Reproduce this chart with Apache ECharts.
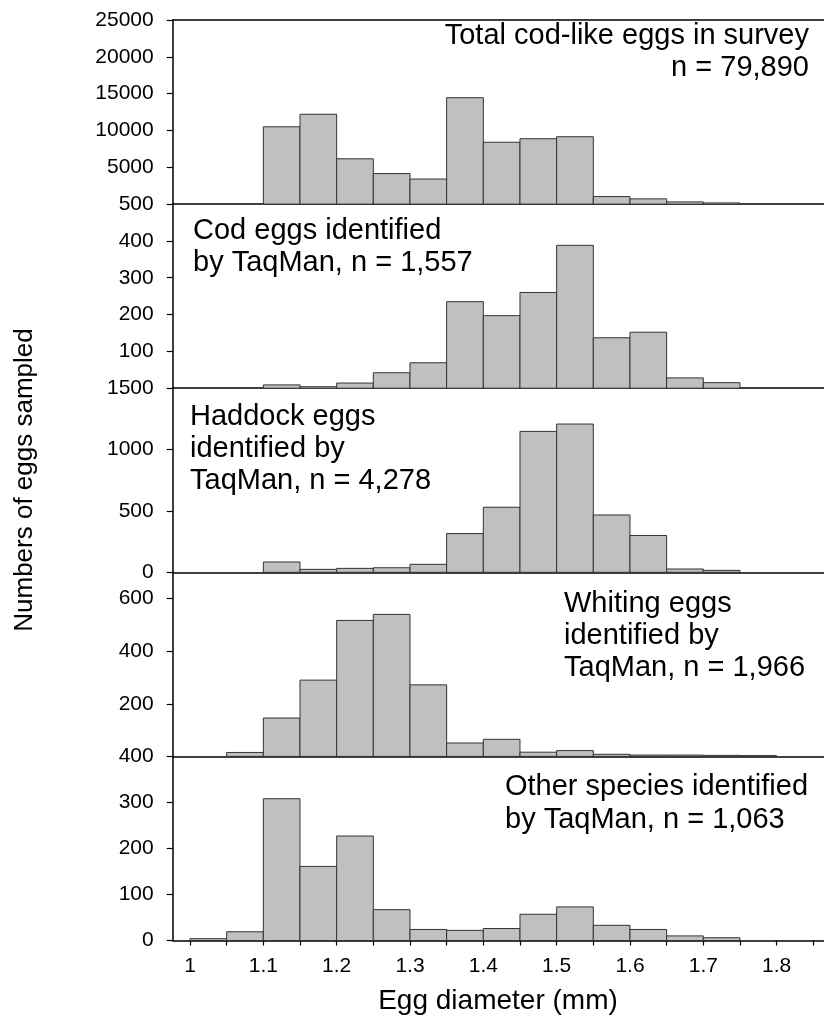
<!DOCTYPE html>
<html>
<head>
<meta charset="utf-8">
<script src="https://cdn.jsdelivr.net/npm/echarts@6/dist/echarts.min.js"></script>
<style>
html,body{margin:0;padding:0;background:#fff;}
#chart{width:824px;height:1017px;}
</style>
</head>
<body>
<div id="chart"></div>
<script>
// Bin starts (mm), width 0.05 mm
const binStarts = [1.00,1.05,1.10,1.15,1.20,1.25,1.30,1.35,1.40,1.45,1.50,1.55,1.60,1.65,1.70,1.75];
const binWidth = 0.05;

const totalEggs   = [0,0,10500,12200,6150,4150,3400,14450,8400,8880,9150,1020,710,300,160,0];
const codEggs     = [0,0,9,4,14,42,69,235,197,260,388,137,152,28,15,0];
const haddockEggs = [0,0,84,24,32,37,65,316,530,1148,1208,467,300,27,16,0];
const whitingEggs = [0,15,146,290,517,540,272,51,65,16,22,8,5,5,4,3];
const otherEggs   = [4,19,308,161,227,67,24,22,26,57,73,33,24,10,6,0];

const xTickLabels = [1,1.1,1.2,1.3,1.4,1.5,1.6,1.7,1.8];
const xTickMarks  = [1,1.05,1.1,1.15,1.2,1.25,1.3,1.35,1.4,1.45,1.5,1.55,1.6,1.65,1.7,1.75,1.8,1.85];

const panelMax      = [25000,500,1500,700,400];
const panelInterval = [5000,100,500,200,100];

const panelText = [
  ["Total cod-like eggs in survey","n = 79,890"],
  ["Cod eggs identified","by TaqMan, n = 1,557"],
  ["Haddock eggs","identified by","TaqMan, n = 4,278"],
  ["Whiting eggs","identified by","TaqMan, n = 1,966"],
  ["Other species identified","by TaqMan, n = 1,063"]
];

const xTitle = "Egg diameter (mm)";
const yTitle = "Numbers of eggs sampled";

const seriesVals = [totalEggs, codEggs, haddockEggs, whitingEggs, otherEggs];

const FONT = '"Liberation Sans", Arial, sans-serif';
const X_MIN = 0.9764, X_MAX = 1.8646;
const TOP0 = 20, PH = 184.1, LEFT = 172.7;

const grids = [], xAxes = [], yAxes = [], series = [];
for (let i = 0; i < 5; i++) {
  grids.push({left: LEFT, right: 0, top: TOP0 + i*PH, height: PH});
  const last = i === 4;
  xAxes.push({
    type: 'value', gridIndex: i, min: X_MIN, max: X_MAX,
    axisLine: {show: true, onZero: false, lineStyle: {color: '#000', width: 1.5}},
    axisTick: last ? {show: true, length: 5, lineStyle: {color: '#000', width: 1.2}, customValues: xTickMarks} : {show: false},
    axisLabel: last ? {show: true, fontSize: 21, fontFamily: FONT, color: '#000', margin: 15,
      customValues: xTickLabels, formatter: v => String(Math.round(v*100)/100)} : {show: false},
    splitLine: {show: false}
  });
  yAxes.push({
    type: 'value', gridIndex: i, min: 0, max: panelMax[i], interval: panelInterval[i],
    axisLine: {show: true, lineStyle: {color: '#000', width: 1.5}},
    axisTick: {show: true, length: 6, lineStyle: {color: '#000', width: 1.2}},
    axisLabel: {fontSize: 21, fontFamily: FONT, color: '#000', margin: 19,
      formatter: v => String(v),
      showMinLabel: (i === 2 || i === 4), showMaxLabel: i !== 3},
    splitLine: {show: false}
  });
  const vals = seriesVals[i];
  const data = binStarts.map((s, k) => [s, s + binWidth, vals[k]]).filter(d => d[2] > 0);
  series.push({
    type: 'custom', xAxisIndex: i, yAxisIndex: i, data: data,
    encode: {x: [0, 1], y: 2},
    renderItem: function (params, api) {
      const p0 = api.coord([api.value(0), api.value(2)]);
      const p1 = api.coord([api.value(1), 0]);
      return {type: 'rect',
        shape: {x: p0[0], y: p0[1], width: p1[0] - p0[0], height: p1[1] - p0[1]},
        style: {fill: '#c0c0c0', stroke: '#333', lineWidth: 1}};
    }
  });
}
// top frame line of first panel
xAxes.push({type: 'value', gridIndex: 0, position: 'top', min: X_MIN, max: X_MAX,
  axisLine: {show: true, onZero: false, lineStyle: {color: '#000', width: 1.5}},
  axisTick: {show: false}, axisLabel: {show: false}, splitLine: {show: false}});

// panel annotation texts
const textPos = [
  {x: 809, y: [36, 68], align: 'right'},
  {x: 193, y: [231, 263], align: 'left'},
  {x: 190, y: [417, 449, 481], align: 'left'},
  {x: 564, y: [604, 636, 668], align: 'left'},
  {x: 505, y: [787, 820], align: 'left'}
];
const graphics = [];
panelText.forEach((lines, i) => {
  lines.forEach((t, j) => {
    graphics.push({type: 'text', x: textPos[i].x, y: textPos[i].y[j], silent: true,
      style: {text: t, font: '29px ' + FONT, fill: '#000', align: textPos[i].align, verticalAlign: 'middle'}});
  });
});
graphics.push({type: 'text', x: 498, y: 1001, silent: true,
  style: {text: xTitle, font: '28px ' + FONT, fill: '#000', align: 'center', verticalAlign: 'middle'}});
graphics.push({type: 'text', x: 25, y: 480, rotation: Math.PI/2, silent: true,
  style: {text: yTitle, font: '26px ' + FONT, fill: '#000', align: 'center', verticalAlign: 'middle'}});

const chart = echarts.init(document.getElementById('chart'), null, {renderer: 'canvas'});
chart.setOption({
  animation: false,
  backgroundColor: '#fff',
  grid: grids, xAxis: xAxes, yAxis: yAxes, series: series, graphic: graphics
});
</script>
</body>
</html>
